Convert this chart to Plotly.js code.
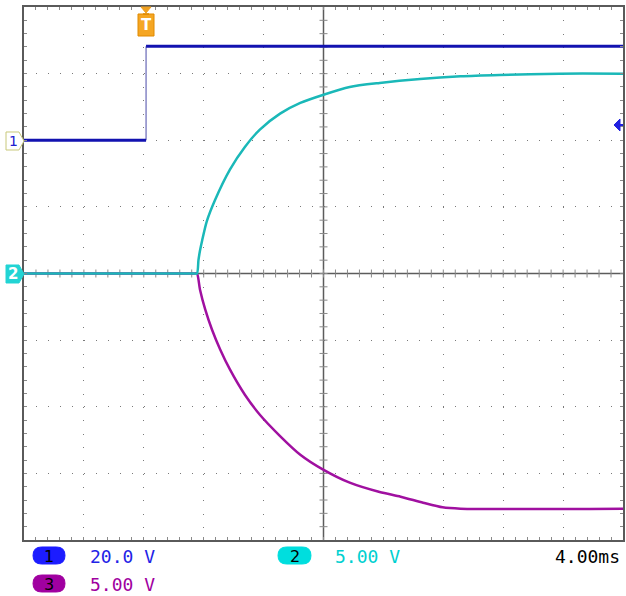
<!DOCTYPE html>
<html>
<head>
<meta charset="utf-8">
<script src="https://cdn.plot.ly/plotly-3.0.1.min.js"></script>
<style>html,body{margin:0;padding:0;background:#fff;}</style>
</head>
<body>
<div id="chart" style="width:626px;height:596px;"></div>
<script>
// ---- data (time in ms relative to trigger, volts) ----
const ch1Time = [-8.15, 0, null, 0, 31.85];
const ch1Volt = [0, 0, null, 28.2, 28.2];

const ch2Time = [-8.15, 3.2, 3.4, 3.5, 3.6, 3.75, 4.05, 4.6, 5.6, 6.6, 7.6, 8.95, 10.3, 11.8, 13.6, 15.6, 18.3, 21.0, 23.6, 27.6, 31.85];
const ch2Volt = [0, 0, 0, 1.0, 1.7, 2.5, 3.9, 5.5, 7.8, 9.5, 10.8, 12.0, 12.8, 13.4, 14.0, 14.3, 14.6, 14.8, 14.9, 15.0, 15.0];

const ch3Time = [-8.15, 3.2, 3.4, 3.6, 3.95, 4.4, 4.95, 5.6, 6.6, 7.6, 8.95, 10.3, 11.8, 13.6, 15.6, 17.0, 18.5, 19.8, 21.0, 31.85];
const ch3Volt = [0, 0, 0, -1.2, -2.7, -4.2, -5.7, -7.2, -9.1, -10.6, -12.2, -13.6, -14.7, -15.7, -16.4, -16.75, -17.2, -17.55, -17.65, -17.65];

const channelLabels = ["1", "2", "3"];
const scaleLabels = ["20.0 V", "5.00 V", "5.00 V"];
const timebaseLabel = "4.00ms";

// ---- geometry helpers (pixel -> paper) ----
const L = 24, T = 7, W = 599, H = 533;
const px = x => (x - L) / W;
const py = y => (T + H - y) / H;
function poly(pts) {
  return 'M' + pts.map(p => px(p[0]).toFixed(5) + ',' + py(p[1]).toFixed(5)).join('L') + 'Z';
}
function pill(x0, y0, x1, y1) {
  const r = (y1 - y0) / 2, ym = (y0 + y1) / 2;
  const P = (x, y) => px(x).toFixed(5) + ',' + py(y).toFixed(5);
  return 'M' + P(x0 + r, y0) + 'L' + P(x1 - r, y0) + 'Q' + P(x1, y0) + ' ' + P(x1, ym) +
    'Q' + P(x1, y1) + ' ' + P(x1 - r, y1) + 'L' + P(x0 + r, y1) + 'Q' + P(x0, y1) + ' ' + P(x0, ym) +
    'Q' + P(x0, y0) + ' ' + P(x0 + r, y0) + 'Z';
}

const blue = '#1212b0', cyan = '#1ab8b8', purple = '#a010a0';

const traces = [
  {x: ch3Time, y: ch3Volt, yaxis: 'y', mode: 'lines', line: {color: purple, width: 2.5, shape: 'spline', smoothing: 0.7}, hoverinfo: 'skip'},
  {x: ch2Time, y: ch2Volt, yaxis: 'y', mode: 'lines', line: {color: cyan, width: 2.5, shape: 'spline', smoothing: 0.7}, hoverinfo: 'skip'},
  {x: [ch1Time[1], ch1Time[3]], y: [ch1Volt[1], ch1Volt[3]], yaxis: 'y2', mode: 'lines', line: {color: '#4a4aa8', width: 1}, hoverinfo: 'skip'},
  {x: ch1Time, y: ch1Volt, yaxis: 'y2', mode: 'lines', connectgaps: false, line: {color: blue, width: 3}, hoverinfo: 'skip'}
];

const shapes = [];
// center cross lines
shapes.push({type: 'line', xref: 'paper', yref: 'paper', x0: 0.5, x1: 0.5, y0: 0, y1: 1, layer: 'below', line: {color: '#5c5c5c', width: 1.5}});
shapes.push({type: 'line', xref: 'paper', yref: 'paper', x0: 0, x1: 1, y0: 0.5, y1: 0.5, layer: 'below', line: {color: '#5c5c5c', width: 1.5}});
// minor ticks on center lines
for (let i = 1; i < 50; i++) {
  shapes.push({type: 'line', xref: 'paper', yref: 'paper', x0: i / 50, x1: i / 50, y0: 0.5 - 4 / H, y1: 0.5 + 4 / H, layer: 'below', line: {color: '#8a8a8a', width: 1}});
}
for (let i = 1; i < 40; i++) {
  shapes.push({type: 'line', xref: 'paper', yref: 'paper', y0: i / 40, y1: i / 40, x0: 0.5 - 4 / W, x1: 0.5 + 4 / W, layer: 'below', line: {color: '#8a8a8a', width: 1}});
}
// channel 1 ground marker
shapes.push({type: 'path', xref: 'paper', yref: 'paper', path: poly([[6, 132], [19, 132], [24, 141], [19, 150], [6, 150]]), fillcolor: '#ffffff', line: {color: '#c8c87a', width: 1}});
// channel 2 ground marker
shapes.push({type: 'path', xref: 'paper', yref: 'paper', path: poly([[6, 265], [19, 265], [24, 274], [19, 283], [6, 283]]), fillcolor: '#22d4d4', line: {color: '#22d4d4', width: 1}});
// trigger position marker
shapes.push({type: 'path', xref: 'paper', yref: 'paper', path: poly([[141, 7], [151, 7], [146, 13]]), fillcolor: '#f0a020', line: {color: '#f0a020', width: 1}});
shapes.push({type: 'path', xref: 'paper', yref: 'paper', path: pill(138, 14, 154, 36).replace(/Q/g, 'L'), fillcolor: '#f5a623', line: {color: '#e08a00', width: 1}});
// trigger level arrow
shapes.push({type: 'path', xref: 'paper', yref: 'paper', path: poly([[614, 125], [620, 119], [620, 131]]), fillcolor: '#2020e0', line: {color: '#2020e0', width: 1}});
shapes.push({type: 'line', xref: 'paper', yref: 'paper', x0: px(619), x1: px(623), y0: py(125), y1: py(125), line: {color: '#2020e0', width: 2}});
// legend badges
const badgeColors = ['#1c1cff', '#00dede', '#a000a0'];
const badgeBoxes = [[33, 547, 65, 564], [278, 547, 311, 564], [33, 575, 65, 592]];
badgeBoxes.forEach((b, i) => {
  shapes.push({type: 'path', xref: 'paper', yref: 'paper', path: pill(b[0], b[1], b[2], b[3]), fillcolor: badgeColors[i], line: {color: badgeColors[i], width: 1}});
});

const annotations = [];
const mono = 'DejaVu Sans Mono';
badgeBoxes.forEach((b, i) => {
  annotations.push({xref: 'paper', yref: 'paper', x: px((b[0] + b[2]) / 2), y: py((b[1] + b[3]) / 2 + 0.5), text: channelLabels[i], showarrow: false, xanchor: 'center', yanchor: 'middle', font: {family: 'DejaVu Sans', size: 16, color: '#000'}});
});
const textColors = ['#2323e6', '#00d0d0', '#a000a0'];
const textPos = [[88, 556], [333, 556], [88, 584]];
scaleLabels.forEach((s, i) => {
  annotations.push({xref: 'paper', yref: 'paper', x: px(textPos[i][0]), y: py(textPos[i][1]), text: s, showarrow: false, xanchor: 'left', yanchor: 'middle', font: {family: mono, size: 18, color: textColors[i]}});
});
annotations.push({xref: 'paper', yref: 'paper', x: px(622), y: py(556), text: timebaseLabel, showarrow: false, xanchor: 'right', yanchor: 'middle', font: {family: mono, size: 18, color: '#000'}});
// marker labels
annotations.push({xref: 'paper', yref: 'paper', x: px(13), y: py(141), text: '1', showarrow: false, xanchor: 'center', yanchor: 'middle', font: {family: 'DejaVu Sans', size: 14, color: '#2020d0'}});
annotations.push({xref: 'paper', yref: 'paper', x: px(13), y: py(274), text: '<b>2</b>', showarrow: false, xanchor: 'center', yanchor: 'middle', font: {family: 'DejaVu Sans', size: 15, color: '#ffffff'}});
annotations.push({xref: 'paper', yref: 'paper', x: px(146), y: py(25), text: '<b>T</b>', showarrow: false, xanchor: 'center', yanchor: 'middle', font: {family: 'DejaVu Sans', size: 15, color: '#ffffff'}});

const axisCommon = {
  showticklabels: false, zeroline: false, showline: true, mirror: 'allticks',
  linecolor: '#5a5a5a', linewidth: 2, ticks: 'inside', ticklen: 3, tickcolor: '#8a8a8a',
  showgrid: true, gridcolor: '#7a7a7a', gridwidth: 1, fixedrange: true
};

const layout = {
  width: 626, height: 596,
  margin: {l: L, r: 626 - L - W, t: T, b: 596 - T - H, pad: 0},
  paper_bgcolor: '#ffffff', plot_bgcolor: '#ffffff',
  showlegend: false,
  xaxis: Object.assign({}, axisCommon, {range: [-8.15, 31.85], tick0: -8.15, dtick: 4, griddash: '1px,12.33px',
    minor: {tick0: -8.15, dtick: 0.8, ticks: 'inside', ticklen: 3, tickcolor: '#8a8a8a', showgrid: false}}),
  yaxis: Object.assign({}, axisCommon, {range: [-20, 20], tick0: 0, dtick: 5, griddash: '1px,10.98px',
    minor: {tick0: 0, dtick: 1, ticks: 'inside', ticklen: 3, tickcolor: '#8a8a8a', showgrid: false}}),
  yaxis2: {overlaying: 'y', range: [-120, 40], visible: false, showgrid: false, zeroline: false, fixedrange: true},
  shapes: shapes,
  annotations: annotations
};

Plotly.newPlot('chart', traces, layout, {staticPlot: true, displayModeBar: false});
</script>
</body>
</html>
